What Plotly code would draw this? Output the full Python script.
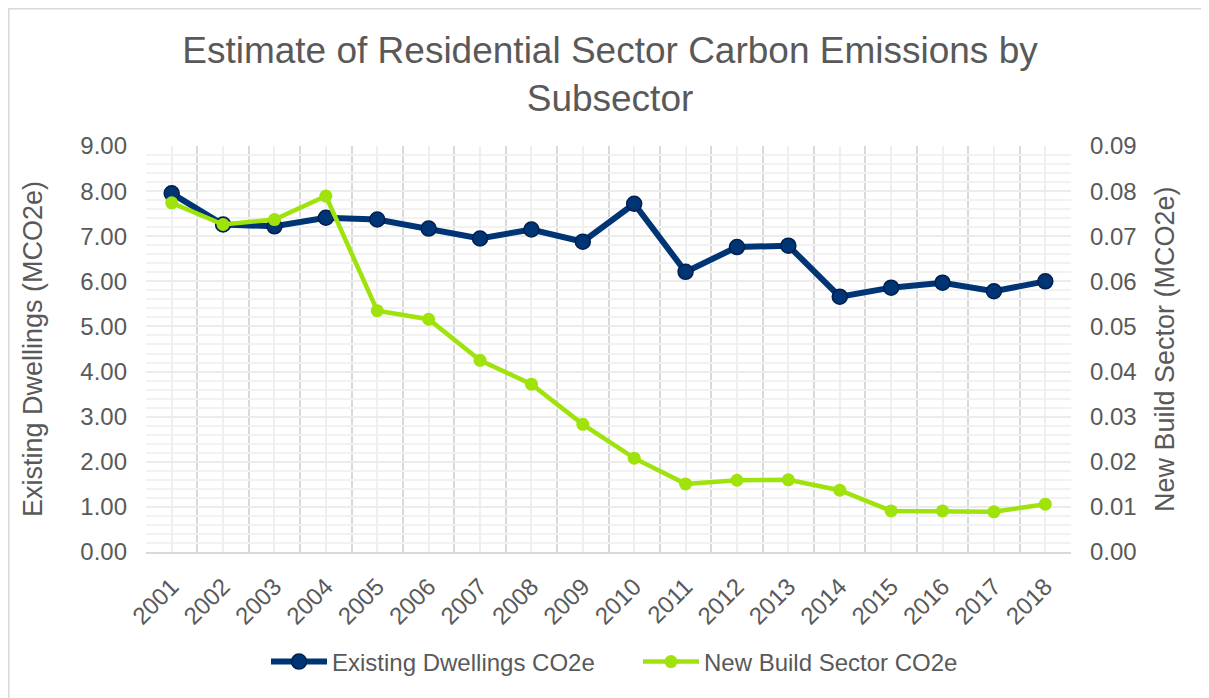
import plotly.graph_objects as go

years = [2001, 2002, 2003, 2004, 2005, 2006, 2007, 2008, 2009,
         2010, 2011, 2012, 2013, 2014, 2015, 2016, 2017, 2018]
year_labels = [str(y) for y in years]
existing = [7.95, 7.26, 7.22, 7.41, 7.37, 7.17, 6.95, 7.15, 6.88,
            7.72, 6.21, 6.76, 6.79, 5.66, 5.86, 5.97, 5.78, 6.00]
new_build = [0.0774, 0.0726, 0.0737, 0.0789, 0.0535, 0.0516, 0.0425, 0.0372, 0.0283,
             0.0208, 0.0151, 0.0159, 0.0160, 0.0137, 0.0091, 0.0091, 0.0089, 0.0106]

TXT = "#595959"
FONT = "Liberation Sans, Arial, sans-serif"
OFF = 8  # page body margin
W, H = 1209 - OFF, 698 - OFF
L, T = 146 - OFF, 146 - OFF
R = W - (1071 - OFF)
B = H - (552 - OFF)
pw, ph = W - L - R, H - T - B

def px_x(p):
    return (p - OFF - L) / pw

def px_y(p):
    return (H - B - (p - OFF)) / ph

fig = go.Figure()
fig.add_trace(go.Scatter(
    x=years, y=existing, name="Existing Dwellings CO2e", mode="lines+markers",
    line=dict(color="#003575", width=6),
    marker=dict(size=15, color="#003575", line=dict(color="#001F4D", width=1.5)),
))
fig.add_trace(go.Scatter(
    x=years, y=new_build, name="New Build Sector CO2e", mode="lines+markers",
    yaxis="y2",
    line=dict(color="#9FE20C", width=4.5),
    marker=dict(size=13, color="#9FE20C"),
))

fig.update_layout(
    width=W, height=H,
    margin=dict(l=L, r=R, t=T, b=B, autoexpand=False),
    paper_bgcolor="white", plot_bgcolor="white",
    font=dict(family=FONT, color=TXT, size=24),
    title=dict(text="Estimate of Residential Sector Carbon Emissions by<br>Subsector",
               x=px_x(610), xref="paper", xanchor="center",
               y=1 - 55 / H, yref="container", yanchor="top",
               font=dict(size=37, color=TXT, family=FONT)),
    xaxis=dict(
        range=[2000.5, 2018.5], tickmode="array", tickvals=years, ticktext=year_labels,
        tickangle=-45, showgrid=True, gridcolor="#EFEFEF", gridwidth=2,
        ticks="", ticklabelstandoff=9,
        minor=dict(tick0=2000.5, dtick=1, showgrid=True, gridcolor="#D9D9D9", gridwidth=2),
        showline=True, linecolor="#D9D9D9", linewidth=2,
        zeroline=False, tickfont=dict(size=24, color=TXT),
    ),
    yaxis=dict(
        range=[0, 9], dtick=1, tickformat=".2f", showgrid=True, gridcolor="#ECECEC",
        gridwidth=2, zeroline=False, ticks="", ticklabelstandoff=18,
        minor=dict(dtick=0.2, showgrid=True, gridcolor="#F2F2F2", gridwidth=2),
        tickfont=dict(size=24, color=TXT),
    ),
    yaxis2=dict(
        range=[0, 0.09], dtick=0.01, tickformat=".2f", overlaying="y", side="right",
        showgrid=False, zeroline=False, ticks="", ticklabelstandoff=18,
        tickfont=dict(size=24, color=TXT),
    ),
    legend=dict(orientation="h", x=px_x(266), xanchor="left", y=px_y(662), yanchor="middle",
                font=dict(size=24, color=TXT), entrywidth=301, itemwidth=56,
                bgcolor="rgba(0,0,0,0)"),
    showlegend=True,
)

fig.add_annotation(text="Existing Dwellings (MCO2e)", xref="paper", yref="paper",
                   x=px_x(33), y=0.5, textangle=-90, showarrow=False,
                   xanchor="center", yanchor="middle",
                   font=dict(size=27, color=TXT, family=FONT))
fig.add_annotation(text="New Build Sector (MCO2e)", xref="paper", yref="paper",
                   x=px_x(1165), y=0.5, textangle=-90, showarrow=False,
                   xanchor="center", yanchor="middle",
                   font=dict(size=27, color=TXT, family=FONT))

fig.add_shape(type="rect", xref="paper", yref="paper",
              x0=px_x(OFF + 0.75), x1=px_x(1208), y0=px_y(720), y1=px_y(OFF + 0.75),
              line=dict(color="#D9D9D9", width=1.5), fillcolor="rgba(0,0,0,0)", layer="below")

fig.write_html("out.html")
